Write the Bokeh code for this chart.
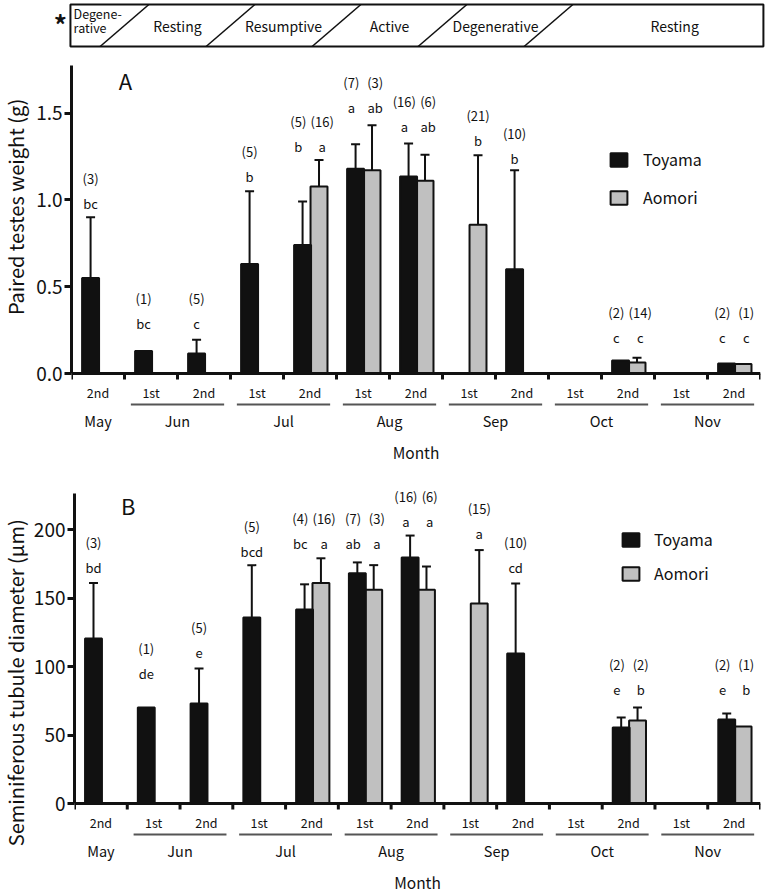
import math
from bokeh.plotting import figure
from bokeh.models import (Range1d, FixedTicker, PrintfTickFormatter, ColumnDataSource,
                          Legend, LegendItem)
from bokeh.layouts import column, row
from bokeh.embed import file_html
from bokeh.resources import INLINE
from bokeh.core.properties import value

FONT = "Noto Sans CJK JP"
INK = "#111111"
GRAY = "#c0c0c0"

# ---------------- data ----------------
half = ["2nd", "1st", "2nd", "1st", "2nd", "1st", "2nd", "1st", "2nd", "1st", "2nd", "1st", "2nd"]
months = ["May", "Jun", "Jul", "Aug", "Sep", "Oct", "Nov"]
month_slots = [[0], [1, 2], [3, 4], [5, 6], [7, 8], [9, 10], [11, 12]]
phases = ["Degene-", "Resting", "Resumptive", "Active", "Degenerative", "Resting"]
phase_bounds = [0, 1, 3, 5, 7, 9, 13]

# Panel A: paired testes weight (g)
toy_mean_A = [0.55, 0.13, 0.115, 0.63, 0.74, 1.18, 1.135, None, 0.60, None, 0.075, None, 0.058]
toy_sd_A = [0.35, None, 0.08, 0.42, 0.25, 0.14, 0.19, None, 0.57, None, None, None, None]
aom_mean_A = [None, None, None, None, 1.077, 1.17, 1.11, 0.857, None, None, 0.063, None, 0.055]
aom_sd_A = [None, None, None, None, 0.153, 0.26, 0.15, 0.40, None, None, 0.027, None, None]
toy_n_A = [3, 1, 5, 5, 5, 7, 16, None, 10, None, 2, None, 2]
aom_n_A = [None, None, None, None, 16, 3, 6, 21, None, None, 14, None, 1]
toy_sig_A = ["bc", "bc", "c", "b", "b", "a", "a", None, "b", None, "c", None, "c"]
aom_sig_A = [None, None, None, None, "a", "ab", "ab", "b", None, None, "c", None, "c"]
sig_y_A = [0.98, 0.29, 0.29, 1.135, 1.31, 1.53, 1.42, 1.34, 1.24, None, 0.21, None, 0.21]
yticks_A = [0.0, 0.5, 1.0, 1.5]

# Panel B: seminiferous tubule diameter (um)
toy_mean_B = [120.4, 70, 73, 135.8, 141.6, 168, 179.6, None, 109.5, None, 55.5, None, 61.3]
toy_sd_B = [40.6, None, 25.5, 38.2, 18.4, 8, 16, None, 51.1, None, 7.3, None, 4.4]
aom_mean_B = [None, None, None, None, 161, 156, 156, 146, None, None, 60.6, None, 56.2]
aom_sd_B = [None, None, None, None, 18, 18, 17, 39, None, None, 9.4, None, None]
toy_n_B = [3, 1, 5, 5, 4, 7, 16, None, 10, None, 2, None, 2]
aom_n_B = [None, None, None, None, 16, 3, 6, 15, None, None, 2, None, 1]
toy_sig_B = ["bd", "de", "e", "bcd", "bc", "ab", "a", None, "cd", None, "e", None, "e"]
aom_sig_B = [None, None, None, None, "a", "a", "a", "a", None, None, "b", None, "b"]
sig_y_B = [172, 95, 110, 184, 190, 190, 206, 197, 172, None, 83, None, 83]
yticks_B = [0, 50, 100, 150, 200]

NSLOT = len(half)
SLOT_PX = 53.0
TITLE_W = 30
LEFT = 71 - TITLE_W      # panel left border so the y axis sits at x = 71
PANEL_W = 761 - TITLE_W


def make_block(letter, ylabel, ymax, extra_top, yticks, fmt, toy_mean, toy_sd, aom_mean, aom_sd,
               toy_n, aom_n, toy_sig, aom_sig, sig_y, top, plot_h, below,
               title_y, letter_y, legend_loc, legend_spacing, legend_standoff):
    ppu = plot_h / ymax                 # pixels per data unit
    px = lambda v: v / ppu              # pixel offset -> data units
    frame_h = extra_top + plot_h + below
    fig_h = top + frame_h
    p = figure(width=PANEL_W, height=fig_h,
               x_range=Range1d(0, NSLOT), y_range=Range1d(-px(below), ymax + px(extra_top)),
               x_axis_type=None, output_backend="svg", toolbar_location=None,
               min_border_left=LEFT, min_border_right=1,
               min_border_top=top, min_border_bottom=0)
    p.ygrid.visible = False
    p.outline_line_color = None

    ya = p.yaxis[0]
    ya.bounds = (0, ymax)
    ya.ticker = FixedTicker(ticks=yticks)
    ya.formatter = PrintfTickFormatter(format=fmt)
    ya.major_tick_out = 7
    ya.major_tick_in = 0
    ya.major_tick_line_width = 3
    ya.major_tick_line_color = INK
    ya.minor_tick_line_color = None
    ya.axis_line_width = 3
    ya.axis_line_color = INK
    ya.major_label_standoff = 2
    ya.major_label_text_font = FONT
    ya.major_label_text_font_size = "19px"
    ya.major_label_text_color = INK

    # bars
    def series(mean, sd, off):
        xs, tops, vx, vy0, vy1, cx0, cx1 = [], [], [], [], [], [], []
        for i, m in enumerate(mean):
            if m is None:
                continue
            x = i + 0.5 + off
            xs.append(x)
            tops.append(m)
            if sd[i] is not None:
                vx.append(x)
                vy0.append(m)
                vy1.append(m + sd[i])
                cx0.append(x - 0.085)
                cx1.append(x + 0.085)
        return (ColumnDataSource(dict(x=xs, top=tops)),
                ColumnDataSource(dict(x=vx, y0=vy0, y1=vy1, cx0=cx0, cx1=cx1)))

    srcA, errA = series(aom_mean, aom_sd, 0.17)
    srcT, errT = series(toy_mean, toy_sd, -0.14)
    rA = p.vbar(x="x", top="top", bottom=0, width=0.32, source=srcA,
                fill_color=GRAY, line_color=INK, line_width=2)
    rT = p.vbar(x="x", top="top", bottom=0, width=0.32, source=srcT,
                fill_color=INK, line_color=INK, line_width=2)
    for e in (errA, errT):
        p.segment(x0="x", y0="y0", x1="x", y1="y1", source=e, line_color=INK, line_width=2)
        p.segment(x0="cx0", y0="y1", x1="cx1", y1="y1", source=e, line_color=INK, line_width=2)

    # x axis: line at zero and outward ticks at the half-month boundaries
    bounds_x = list(range(NSLOT + 1))
    p.segment(x0=[0], y0=[0], x1=[NSLOT], y1=[0], line_color=INK, line_width=3)
    p.segment(x0=bounds_x, y0=[0] * len(bounds_x), x1=bounds_x, y1=[-px(6)] * len(bounds_x),
              line_color=INK, line_width=3)

    # significance letters and sample sizes
    lx, ly, lt = [], [], []
    for i in range(NSLOT):
        hasT = toy_mean[i] is not None
        hasA = aom_mean[i] is not None
        pair = hasT and hasA
        if sig_y[i] is None:
            continue
        ny = sig_y[i] + px(25)
        if hasT:
            x = i + 0.5 + (-0.22 if pair else -0.14)
            lx += [x, x]
            ly += [sig_y[i], ny]
            lt += [toy_sig[i], "(%d)" % toy_n[i]]
        if hasA:
            x = i + 0.5 + (0.23 if pair else 0.17)
            lx += [x, x]
            ly += [sig_y[i], ny]
            lt += [aom_sig[i], "(%d)" % aom_n[i]]
    p.text(x=lx, y=ly, text=lt, text_font=value(FONT), text_font_size="13px",
           text_align="center", text_baseline="middle", text_color=INK)

    p.text(x=[1.02], y=[letter_y], text=[letter], text_font=value(FONT), text_font_size="22px",
           text_align="center", text_baseline="middle", text_color=INK)

    # category labels below the axis
    p.text(x=[i + 0.5 for i in range(NSLOT)], y=[-px(19)] * NSLOT, text=half,
           text_font=value(FONT), text_font_size="12.5px", text_align="center",
           text_baseline="middle", text_color=INK)
    u = [s for s in month_slots if len(s) > 1]
    p.segment(x0=[s[0] + 0.12 for s in u], y0=[-px(31)] * len(u),
              x1=[s[-1] + 1 - 0.12 for s in u], y1=[-px(31)] * len(u),
              line_color="#555555", line_width=2.2)
    p.text(x=[sum(s) / len(s) + 0.5 for s in month_slots], y=[-px(47)] * len(months),
           text=months, text_font=value(FONT), text_font_size="14.5px",
           text_align="center", text_baseline="middle", text_color=INK)
    p.text(x=[NSLOT / 2], y=[-px(78)], text=["Month"], text_font=value(FONT),
           text_font_size="15.5px", text_align="center", text_baseline="middle",
           text_color=INK)

    legend = Legend(items=[LegendItem(label="Toyama", renderers=[rT]),
                           LegendItem(label="Aomori", renderers=[rA])],
                    location=legend_loc, orientation="vertical",
                    glyph_width=21, glyph_height=17, label_standoff=legend_standoff,
                    label_height=20, spacing=legend_spacing, padding=0, margin=0,
                    border_line_color=None, background_fill_alpha=0,
                    label_text_font=FONT, label_text_font_size="16px",
                    label_text_color=INK)
    p.add_layout(legend)

    # y axis title in its own strip
    tt = figure(width=TITLE_W, height=fig_h, x_range=Range1d(0, TITLE_W),
                y_range=Range1d(0, fig_h), x_axis_type=None, y_axis_type=None,
                output_backend="svg", toolbar_location=None,
                min_border_left=0, min_border_right=0, min_border_top=0, min_border_bottom=0)
    tt.outline_line_color = None
    tt.xgrid.visible = False
    tt.ygrid.visible = False
    tt.text(x=[15], y=[title_y], text=[ylabel], angle=math.pi / 2, text_font=value(FONT),
            text_font_size="20px", text_align="center", text_baseline="middle",
            text_color=INK)

    return row(tt, p, spacing=0)


blockA = make_block("A", "Paired testes weight (g)", 1.774, 5, yticks_A, "%.1f",
                    toy_mean_A, toy_sd_A, aom_mean_A, aom_sd_A, toy_n_A, aom_n_A,
                    toy_sig_A, aom_sig_A, sig_y_A, top=10, plot_h=308, below=90,
                    title_y=263, letter_y=1.69, legend_loc=(537, 254),
                    legend_spacing=14, legend_standoff=14)
blockB = make_block("B", "Seminiferous tubule diameter (\u03bcm)", 226.3, 10, yticks_B, "%d",
                    toy_mean_B, toy_sd_B, aom_mean_B, aom_sd_B, toy_n_B, aom_n_B,
                    toy_sig_B, aom_sig_B, sig_y_B, top=20, plot_h=310, below=88,
                    title_y=219, letter_y=218, legend_loc=(546, 306),
                    legend_spacing=10, legend_standoff=13)

# ---------------- phase banner (y in pixels, 0 at the bottom of the strip) ----------------
BW = 765
pb = figure(width=BW, height=50, x_range=Range1d(-71 / SLOT_PX, (BW - 71) / SLOT_PX),
            y_range=Range1d(0, 50), x_axis_type=None, y_axis_type=None,
            output_backend="svg", toolbar_location=None,
            min_border_left=0, min_border_right=0, min_border_top=0, min_border_bottom=0)
pb.outline_line_color = None
pb.xgrid.visible = False
pb.ygrid.visible = False
pb.quad(left=[-0.02], right=[NSLOT + 0.055], bottom=[4], top=[46],
        fill_color=None, line_color=INK, line_width=2)
HS = 0.46
inner = phase_bounds[1:-1]
pb.segment(x0=[b - HS for b in inner], y0=[4] * len(inner),
           x1=[b + HS for b in inner], y1=[46] * len(inner), line_color=INK, line_width=1.6)
pxs, pts = [], []
for k in range(1, len(phases)):
    left = phase_bounds[k] + HS
    right = phase_bounds[k + 1] - HS if k + 1 < len(phases) else phase_bounds[k + 1] + 0.3
    pxs.append((left + right) / 2)
    pts.append(phases[k])
pb.text(x=pxs, y=[25] * len(pxs), text=pts, text_font=value(FONT), text_font_size="14px",
        text_align="center", text_baseline="middle", text_color=INK)
pb.text(x=[0.04, 0.04], y=[37, 23], text=[phases[0], "rative"], text_font=value(FONT),
        text_font_size="12.5px", text_align="left", text_baseline="middle", text_color=INK)
pb.text(x=[-0.21], y=[27], text=["*"], text_font=value(FONT), text_font_size="26px",
        text_font_style="bold", text_align="center", text_baseline="middle", text_color=INK)

layout = column(pb, blockA, blockB, spacing=0)
open("out.html", "w").write(file_html(layout, INLINE))
